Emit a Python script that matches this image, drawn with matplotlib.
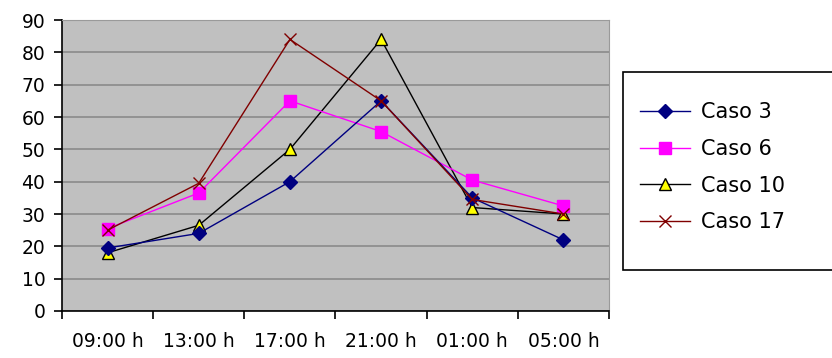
import matplotlib
matplotlib.use('Agg')
import matplotlib.pyplot as plt
from matplotlib.patches import Rectangle

# Data
horas = ['09:00 h', '13:00 h', '17:00 h', '21:00 h', '01:00 h', '05:00 h']
caso3 = [19.5, 24, 40, 65, 35, 22]
caso6 = [25.5, 36.5, 65, 55.5, 40.5, 32.5]
caso10 = [18, 26.5, 50, 84, 32, 30]
caso17 = [25, 39.5, 84, 65, 34.5, 30]

plt.rcParams['font.family'] = 'DejaVu Sans'

fig = plt.figure(figsize=(8.32, 3.58), dpi=100)
ax = fig.add_axes([62/832, 1-311/358, (609-62)/832, (311-20)/358])
ax.set_facecolor('#c0c0c0')

x = list(range(len(horas)))
ax.plot(x, caso3, color='#000080', marker='D', markersize=7.5, lw=1, label='Caso 3', zorder=5)
ax.plot(x, caso6, color='#ff00ff', marker='s', markersize=8, lw=1, label='Caso 6', zorder=4)
ax.plot(x, caso10, color='black', marker='^', markersize=8, markerfacecolor='#ffff00',
        markeredgecolor='black', lw=1, label='Caso 10', zorder=3)
ax.plot(x, caso17, color='#800000', marker='x', markersize=8, lw=1, label='Caso 17', zorder=6)

ax.set_xlim(-0.5, len(horas) - 0.5)
ax.set_ylim(0, 90)
ax.set_yticks(range(0, 91, 10))
ax.set_xticks([i - 0.5 for i in range(len(horas) + 1)])
ax.set_xticklabels([])
ax.set_xticks(x, minor=True)
ax.set_xticklabels(horas, minor=True)
ax.tick_params(axis='x', which='minor', length=0, pad=15, labelsize=13.5)
ax.tick_params(axis='x', which='major', length=6, width=1.2, direction='out')
ax.tick_params(axis='y', length=6, width=1.2, direction='out', pad=6, labelsize=13.5)
ax.yaxis.grid(True, color='#8a8a8a', lw=1.2)
ax.set_axisbelow(True)

for s in ['top', 'right']:
    ax.spines[s].set_color('#9a9a9a')
for s in ['left', 'bottom']:
    ax.spines[s].set_color('black')
    ax.spines[s].set_linewidth(1.2)

# legend box (extends past the right edge like the original)
fig.patches.append(Rectangle((623/832, 1-270/358), 0.3, (270-72)/358,
                             transform=fig.transFigure, facecolor='white',
                             edgecolor='black', lw=1.2, zorder=0))
fig.legend(loc='upper left', bbox_to_anchor=(630/832, 1-92/358), frameon=False,
           fontsize=15, handlelength=2.4, labelspacing=0.8, handletextpad=0.5,
           borderpad=0)

fig.savefig('out.png', dpi=100)
